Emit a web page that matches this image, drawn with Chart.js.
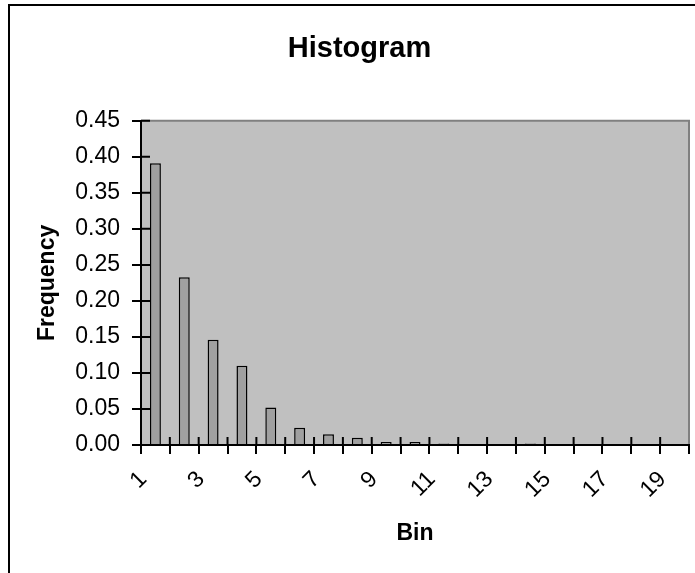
<!DOCTYPE html>
<html>
<head>
<meta charset="utf-8">
<title>Histogram</title>
<script src="https://cdn.jsdelivr.net/npm/chart.js@4"></script>
<style>
  html, body { margin: 0; padding: 0; background: #ffffff; }
  #wrap { width: 695px; height: 573px; }
</style>
</head>
<body>
<div id="wrap"><canvas id="Chart" width="695" height="573"></canvas></div>
<script>
// bins on the x axis
const bins = ['1', '2', '3', '4', '5', '6', '7', '8', '9', '10',
              '11', '12', '13', '14', '15', '16', '17', '18', '19'];

// frequency per bin
const frequency = [0.391, 0.233, 0.146, 0.110, 0.052, 0.024, 0.015, 0.010, 0.004, 0.004,
                   0.002, 0, 0, 0.002, 0, 0, 0, 0, 0];

// y tick labels
const yTicks = ['0.00', '0.05', '0.10', '0.15', '0.20', '0.25', '0.30', '0.35', '0.40', '0.45'];

document.addEventListener('DOMContentLoaded', function () {

  const ctx = document.getElementById('Chart');

  Chart.defaults.font.family = '"Liberation Sans", Arial, sans-serif';
  Chart.defaults.color = '#000000';

  // grey plot area, grey top/right frame, and the outer chart border
  const excelFrame = {
    id: 'excelFrame',
    beforeDraw(chart) {
      const { ctx, chartArea: a } = chart;
      ctx.save();
      ctx.fillStyle = '#c0c0c0';
      ctx.fillRect(a.left, a.top, a.right - a.left, a.bottom - a.top);
      ctx.strokeStyle = '#808080';
      ctx.lineWidth = 2;
      ctx.beginPath();
      ctx.moveTo(a.left, a.top);
      ctx.lineTo(a.right, a.top);
      ctx.lineTo(a.right, a.bottom);
      ctx.stroke();
      ctx.restore();
    },
    afterDatasetsDraw(chart) {
      // inner half of the crossing tick marks
      const { ctx, chartArea: a, scales } = chart;
      ctx.save();
      ctx.strokeStyle = '#000000';
      ctx.lineWidth = 2;
      ctx.beginPath();
      scales.y.ticks.forEach(t => {
        const y = scales.y.getPixelForValue(t.value);
        ctx.moveTo(a.left, y);
        ctx.lineTo(a.left + 9, y);
      });
      for (let i = 1; i < bins.length; i++) {
        const x = scales.x.getPixelForValue(i - 0.5);
        ctx.moveTo(x, a.bottom);
        ctx.lineTo(x, a.bottom - 8);
      }
      ctx.stroke();
      ctx.restore();
    },
    afterDraw(chart) {
      const { ctx } = chart;
      ctx.save();
      ctx.strokeStyle = '#000000';
      ctx.lineWidth = 2;
      ctx.strokeRect(9, 5, 720, 620);
      ctx.restore();
    }
  };

  new Chart(ctx, {
    type: 'bar',
    data: {
      labels: bins,
      datasets: [{
        label: 'Frequency',
        data: frequency,
        backgroundColor: '#a0a0a0',
        borderColor: '#000000',
        borderWidth: 1.5,
        barPercentage: 0.38,
        categoryPercentage: 1.0
      }]
    },
    options: {
      responsive: false,
      animation: false,
      layout: {
        padding: { left: 30, right: 6, top: 0, bottom: 0 }
      },
      plugins: {
        legend: { display: false },
        tooltip: { enabled: false },
        title: {
          display: true,
          text: 'Histogram',
          color: '#000000',
          font: { size: 29, weight: 'bold' },
          padding: { top: 32, bottom: 54 }
        }
      },
      scales: {
        x: {
          offset: true,
          grid: {
            offset: true,
            drawOnChartArea: false,
            drawTicks: true,
            tickLength: 9,
            color: '#000000',
            lineWidth: 2
          },
          border: { display: true, color: '#000000', width: 2 },
          ticks: {
            autoSkip: false,
            minRotation: 45,
            maxRotation: 45,
            padding: 12,
            labelOffset: -12,
            font: { size: 23 },
            callback: function (val, i) { return i % 2 === 0 ? bins[i] : ''; }
          },
          title: {
            display: true,
            text: 'Bin',
            font: { size: 23, weight: 'bold' },
            padding: { top: 0, bottom: 26 }
          },
          afterFit: function (scale) {
            scale.height = 128;
            scale.paddingLeft = 0;
            scale.paddingRight = 0;
          }
        },
        y: {
          min: 0,
          max: 0.45,
          grid: {
            drawOnChartArea: false,
            drawTicks: true,
            tickLength: 9,
            color: '#000000',
            lineWidth: 2
          },
          border: { display: true, color: '#000000', width: 2 },
          ticks: {
            stepSize: 0.05,
            padding: 12,
            font: { size: 23 },
            callback: function (val, i) { return yTicks[i]; }
          },
          title: {
            display: true,
            text: 'Frequency',
            font: { size: 23, weight: 'bold' },
            padding: { top: 4, bottom: 0 }
          },
          afterFit: function (scale) {
            scale.width = 111;
            scale.paddingTop = 0;
            scale.paddingBottom = 0;
          }
        }
      }
    },
    plugins: [excelFrame]
  });
});
</script>
</body>
</html>
